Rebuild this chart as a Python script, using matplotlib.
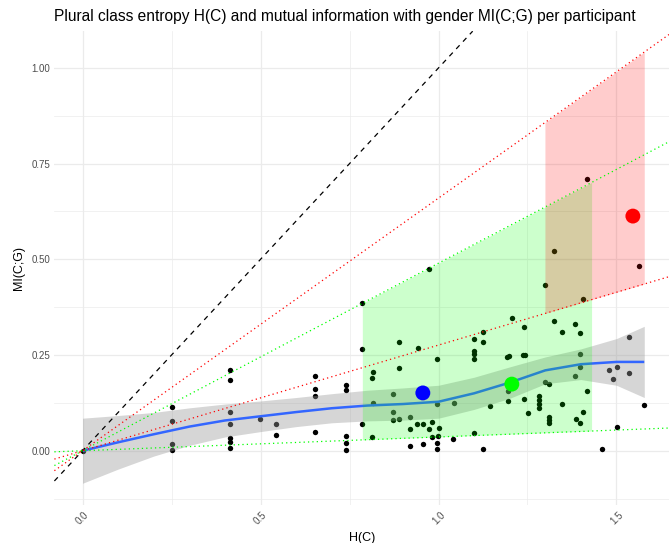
import matplotlib
matplotlib.use("Agg")
import matplotlib.pyplot as plt
import numpy as np

plt.rcParams['font.family'] = ['Liberation Sans', 'DejaVu Sans']

# ---- data ----
hc = [0.0,
      0.25, 0.25, 0.25, 0.25,
      0.414, 0.414, 0.414, 0.414, 0.414, 0.414, 0.414,
      0.498, 0.544, 0.544,
      0.654, 0.654, 0.654, 0.654,
      0.739, 0.739, 0.739, 0.739, 0.739,
      0.786, 0.786, 0.786,
      0.812, 0.817, 0.812, 0.817,
      0.890, 0.890, 0.871, 0.871, 0.871, 0.890,
      0.920, 0.920, 0.919, 0.940, 0.956, 0.956, 0.942, 0.974,
      0.981, 0.974, 1.001, 0.981, 0.999, 0.997, 0.997, 0.995, 0.997,
      1.044, 1.042,
      1.101, 1.101, 1.101, 1.101, 1.101,
      1.124, 1.124, 1.124, 1.144,
      1.192, 1.198, 1.207, 1.241, 1.237, 1.243,
      1.299, 1.325, 1.348, 1.325, 1.418, 1.407, 1.562,
      1.196, 1.196, 1.241, 1.252,
      1.281, 1.281, 1.281, 1.281,
      1.309, 1.309, 1.309, 1.299, 1.309, 1.348,
      1.383, 1.397, 1.397, 1.397, 1.383, 1.418, 1.407, 1.385, 1.397,
      1.460, 1.479, 1.501, 1.491, 1.535, 1.535, 1.501, 1.578]
mi = [0.0,
      0.115, 0.078, 0.0175, 0.003,
      0.212, 0.185, 0.101, 0.069, 0.034, 0.023, 0.006,
      0.084, 0.070, 0.042,
      0.196, 0.161, 0.142, 0.048,
      0.173, 0.159, 0.038, 0.020, 0.001,
      0.385, 0.266, 0.071,
      0.037, 0.206, 0.189, 0.124,
      0.285, 0.217, 0.147, 0.102, 0.080, 0.083,
      0.087, 0.057, 0.012, 0.071, 0.071, 0.017, 0.268, 0.475,
      0.074, 0.056, 0.059, 0.036, 0.038, 0.021, 0.004, 0.240, 0.123,
      0.124, 0.031,
      0.291, 0.260, 0.252, 0.240, 0.047,
      0.309, 0.283, 0.004, 0.117,
      0.244, 0.247, 0.347, 0.322, 0.251, 0.251,
      0.432, 0.338, 0.311, 0.522, 0.709, 0.396, 0.483,
      0.155, 0.131, 0.135, 0.099,
      0.144, 0.132, 0.122, 0.111,
      0.089, 0.080, 0.072, 0.180, 0.174, 0.121,
      0.331, 0.308, 0.254, 0.219, 0.196, 0.157, 0.102, 0.083, 0.072,
      0.005, 0.211, 0.219, 0.187, 0.298, 0.202, 0.062, 0.119]

# smoothed trend (loess) and its confidence band
smooth_x = [0.0, 0.1, 0.2, 0.3, 0.4, 0.5, 0.6, 0.7, 0.8, 0.9, 1.0, 1.1, 1.2, 1.3, 1.4, 1.5, 1.578]
smooth_y = [0.0, 0.022, 0.043, 0.063, 0.079, 0.090, 0.101, 0.111, 0.118, 0.122, 0.128, 0.150, 0.178, 0.210, 0.226, 0.232, 0.232]
smooth_lo = [-0.085, -0.048, -0.014, 0.014, 0.036, 0.050, 0.063, 0.073, 0.078, 0.080, 0.085, 0.108, 0.137, 0.175, 0.186, 0.171, 0.139]
smooth_hi = [0.085, 0.092, 0.100, 0.112, 0.122, 0.130, 0.139, 0.149, 0.158, 0.164, 0.171, 0.192, 0.219, 0.245, 0.266, 0.293, 0.325]

# group summaries
group_colors = ['blue', '#00FF00', 'red']
group_h = [0.956, 1.206, 1.546]
group_mi = [0.151, 0.174, 0.613]

# group ranges (H extent) and ratio slopes (MI/H min and max)
band_colors = ['#00FF00', 'red']
band_hmin = [0.786, 1.299]
band_hmax = [1.430, 1.578]
band_slope_lo = [0.036, 0.276]
band_slope_hi = [0.490, 0.660]

# ---- figure ----
W, H = 669, 543
fig = plt.figure(figsize=(W / 100, H / 100), dpi=100)
left_px, right_px, top_px, bot_px = 54.4, 669.0, 31.2, 504.7
ax = fig.add_axes([left_px / W, 1 - bot_px / H, (right_px - left_px) / W, (bot_px - top_px) / H])
ax.set_xlim(-0.079, 1.6475)
ax.set_ylim(-0.141, 1.096)
for s in ax.spines.values():
    s.set_visible(False)

grid_c = '#EBEBEB'
ax.set_xticks([0.0, 0.5, 1.0, 1.5])
ax.set_xticks([0.25, 0.75, 1.25], minor=True)
ax.set_yticks([0.0, 0.25, 0.5, 0.75, 1.0])
ax.set_yticks([-0.125, 0.125, 0.375, 0.625, 0.875], minor=True)
ax.grid(True, which='major', color=grid_c, linewidth=0.9, zorder=0)
ax.grid(True, which='minor', color=grid_c, linewidth=0.5, zorder=0)
ax.set_axisbelow(True)
ax.tick_params(which='both', length=0)
ax.set_xticklabels(['0.0', '0.5', '1.0', '1.5'], rotation=45, ha='center', va='top', fontsize=7.0, color='#4D4D4D')
ax.set_yticklabels(['0.00', '0.25', '0.50', '0.75', '1.00'], fontsize=7.0, color='#4D4D4D')
ax.tick_params(axis='x', pad=4)
ax.tick_params(axis='y', pad=3)

# points
ax.scatter(hc, mi, s=15, color='black', linewidths=0, zorder=2)

# smoother
ax.fill_between(smooth_x, smooth_lo, smooth_hi, color='#999999', alpha=0.4, linewidth=0, zorder=3)
ax.plot(smooth_x, smooth_y, color='#3366FF', linewidth=1.8, zorder=4, solid_capstyle='butt')

# group bands
for c, x0, x1, slo, shi in zip(band_colors, band_hmin, band_hmax, band_slope_lo, band_slope_hi):
    xs = np.array([x0, x1])
    ax.fill_between(xs, slo * xs, shi * xs, color=c, alpha=0.2, linewidth=0, zorder=5)

# reference lines
ax.axline((0, 0), slope=1.0, color='black', linestyle=(0, (4, 4)), linewidth=0.9, zorder=6)
for c, slo, shi in zip(band_colors, band_slope_lo, band_slope_hi):
    for sl in (slo, shi):
        ax.axline((0, 0), slope=sl, color=c, linestyle=(0, (1, 2.5)), linewidth=0.9, zorder=6)

# group means
ax.scatter(group_h, group_mi, s=115, c=group_colors, linewidths=0, zorder=7)

ax.set_xlabel('H(C)', fontsize=9.0, color='black', labelpad=4)
ax.set_ylabel('MI(C;G)', fontsize=9.0, color='black', labelpad=5)
ax.set_title('Plural class entropy H(C) and mutual information with gender MI(C;G) per participant',
             fontsize=11.2, loc='left', x=0.0, pad=7)

fig.savefig('out.png', dpi=100, facecolor='white')
